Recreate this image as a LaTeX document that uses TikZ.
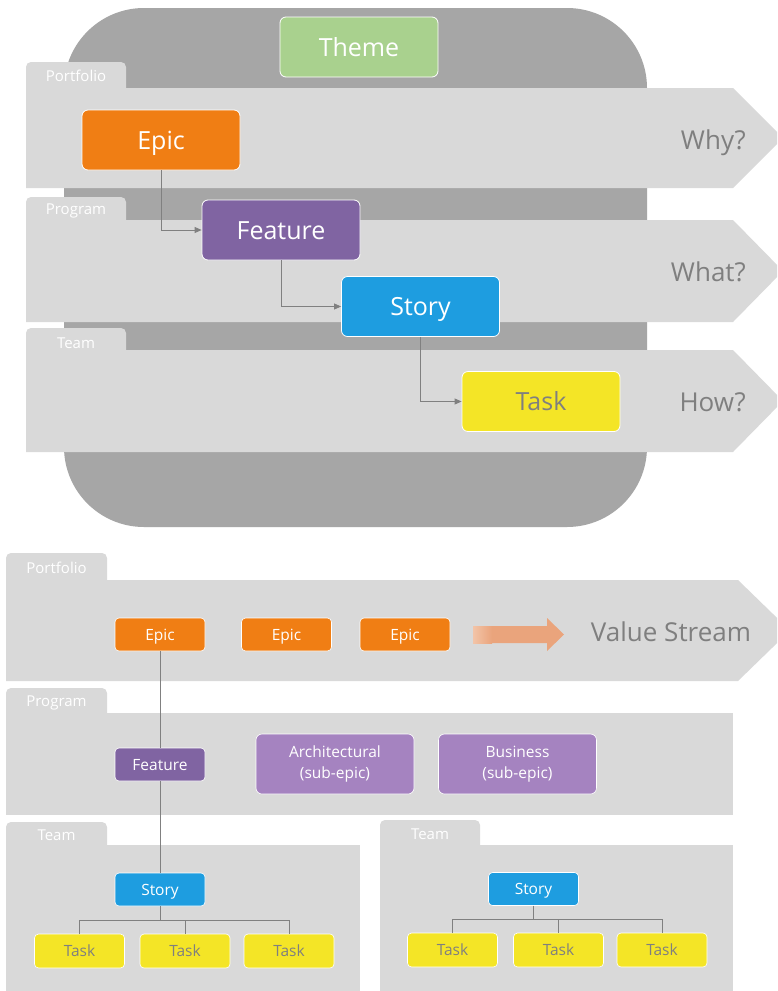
\documentclass[tikz,border=0pt]{standalone}
\usepackage{fontspec}
\setmainfont{Open Sans}
\usetikzlibrary{arrows.meta}
\definecolor{dk}{HTML}{A6A6A6}
\definecolor{band}{HTML}{D9D9D9}
\definecolor{themeg}{HTML}{A9D18E}
\definecolor{epico}{HTML}{F07E14}
\definecolor{featp}{HTML}{8064A2}
\definecolor{storyb}{HTML}{1E9DE0}
\definecolor{tasky}{HTML}{F4E526}
\definecolor{subp}{HTML}{A583C0}
\definecolor{txtg}{HTML}{7F7F7F}
\definecolor{lineg}{HTML}{808080}
\definecolor{arrL}{HTML}{F2C4A8}
\definecolor{arrR}{HTML}{EAA47C}
\tikzset{
  bigbox/.style={rounded corners=6pt, draw=white, line width=0.8pt, inner sep=0pt, text=white,
    font=\fontsize{25}{28}\selectfont, minimum width=158pt, minimum height=60pt, text height=18pt, text depth=0pt},
  smallbox/.style={rounded corners=4pt, draw=white, line width=0.6pt, inner sep=0pt, text=white,
    font=\fontsize{15.5}{18}\selectfont, minimum width=90pt, minimum height=33pt, text height=11pt, text depth=0pt},
  subbox/.style={rounded corners=6pt, draw=white, line width=0.6pt, inner sep=0pt, text=white,
    font=\fontsize{15.5}{21}\selectfont, minimum width=158pt, minimum height=60pt, align=center},
  tablabel/.style={text=white, font=\fontsize{15}{17}\selectfont, inner sep=0pt},
  sidelabel/.style={text=txtg, font=\fontsize{26}{30}\selectfont, inner sep=0pt, text height=19pt, text depth=0pt},
  conn/.style={draw=lineg, line width=0.8pt},
  arr/.style={conn, -{Triangle[length=7pt,width=6pt]}},
}
\begin{document}
\begin{tikzpicture}[x=1pt,y=-1pt]
\useasboundingbox (0,0) rectangle (777,991);
\clip (0,0) rectangle (777,991);
\fill[white] (0,0) rectangle (777,991);

% ===== top section =====
\fill[dk, rounded corners=80pt] (64,8) rectangle (647,527);

% Portfolio band
\fill[band, rounded corners=5pt] (26,62) rectangle (126,100);
\fill[band] (26,88) -- (733,88) -- (783,138) -- (733,188) -- (26,188) -- cycle;
% Program band
\fill[band, rounded corners=5pt] (26,197) rectangle (126,235);
\fill[band] (26,220) -- (733,220) -- (783,271) -- (733,322) -- (26,322) -- cycle;
% Team band
\fill[band, rounded corners=5pt] (26,328) rectangle (126,365);
\fill[band] (26,350) -- (733,350) -- (783,401) -- (733,452) -- (26,452) -- cycle;

\node[tablabel] (tPortfolio) at (76,76) {Portfolio};
\node[tablabel] (tProgram) at (76,211) {Program};
\node[tablabel] (tTeam) at (76,343) {Team};

\node[bigbox, fill=themeg] (theme) at (359,47) {Theme};
\node[bigbox, fill=epico] (epic) at (161,140) {Epic};
\node[bigbox, fill=featp] (feature) at (281,230) {Feature};
\node[bigbox, fill=storyb] (story) at (420.5,306.5) {Story};
\node[bigbox, fill=tasky, text=txtg] (task) at (541,401.5) {Task};

\node[sidelabel, anchor=east] (why) at (746,140) {Why?};
\node[sidelabel, anchor=east] (what) at (746,272) {What?};
\node[sidelabel, anchor=east] (how) at (746,402) {How?};

\draw[arr] (epic.south) |- (feature.west);
\draw[arr] (feature.south) |- (story.west);
\draw[arr] (story.south) |- (task.west);

% ===== bottom section =====
% Portfolio
\fill[band, rounded corners=5pt] (6,553) rectangle (107,590);
\fill[band] (6,580) -- (738,580) -- (790,630.5) -- (738,681) -- (6,681) -- cycle;
\node[tablabel] (bPortfolio) at (56.5,568) {Portfolio};
% Program
\fill[band, rounded corners=5pt] (6,688) rectangle (107,725);
\fill[band] (6,713) rectangle (733,815);
\node[tablabel] (bProgram) at (56.5,703) {Program};
% Team left
\fill[band, rounded corners=5pt] (6,822) rectangle (107,860);
\fill[band] (6,845) rectangle (360,995);
\node[tablabel] (bTeamL) at (56.5,835) {Team};
% Team right
\fill[band, rounded corners=5pt] (380,820) rectangle (480,860);
\fill[band] (380,845) rectangle (733,995);
\node[tablabel] (bTeamR) at (430,834) {Team};

\node[smallbox, fill=epico] (e1) at (160,634.5) {Epic};
\node[smallbox, fill=epico] (e2) at (286.5,634.5) {Epic};
\node[smallbox, fill=epico] (e3) at (405,634.5) {Epic};

% value stream arrow
\fill[arrR]
  (473,626) -- (547,626) -- (547,618) -- (564,634.5) -- (547,651) -- (547,643) -- (473,643) -- cycle;
\shade[left color=arrL, right color=arrR, shading angle=90] (473,626) rectangle (492,643);
\node[sidelabel] (vs) at (671,632) {Value Stream};

\node[smallbox, fill=featp] (f1) at (160,764.5) {Feature};
\node[subbox, fill=subp] (arch) at (335,764) {Architectural\\(sub-epic)};
\node[subbox, fill=subp] (bus) at (517.5,764) {Business\\(sub-epic)};

\node[smallbox, fill=storyb] (sL) at (160,889.5) {Story};
\node[smallbox, fill=tasky, text=txtg, minimum height=34pt] (tL1) at (79.5,951) {Task};
\node[smallbox, fill=tasky, text=txtg, minimum height=34pt] (tL2) at (185,951) {Task};
\node[smallbox, fill=tasky, text=txtg, minimum height=34pt] (tL3) at (289,951) {Task};

\node[smallbox, fill=storyb] (sR) at (533.5,889) {Story};
\node[smallbox, fill=tasky, text=txtg, minimum height=34pt] (tR1) at (452.5,950) {Task};
\node[smallbox, fill=tasky, text=txtg, minimum height=34pt] (tR2) at (558.5,950) {Task};
\node[smallbox, fill=tasky, text=txtg, minimum height=34pt] (tR3) at (662,950) {Task};

\draw[conn] (e1.south) -- (f1.north);
\draw[conn] (f1.south) -- (sL.north);
\draw[conn] (sL.south) -- ++(0,14) -| (tL1.north);
\draw[conn] (sL.south) -- ++(0,14) -| (tL2.north);
\draw[conn] (sL.south) -- ++(0,14) -| (tL3.north);
\draw[conn] (sR.south) -- ++(0,14) -| (tR1.north);
\draw[conn] (sR.south) -- ++(0,14) -| (tR2.north);
\draw[conn] (sR.south) -- ++(0,14) -| (tR3.north);
\end{tikzpicture}
\end{document}
